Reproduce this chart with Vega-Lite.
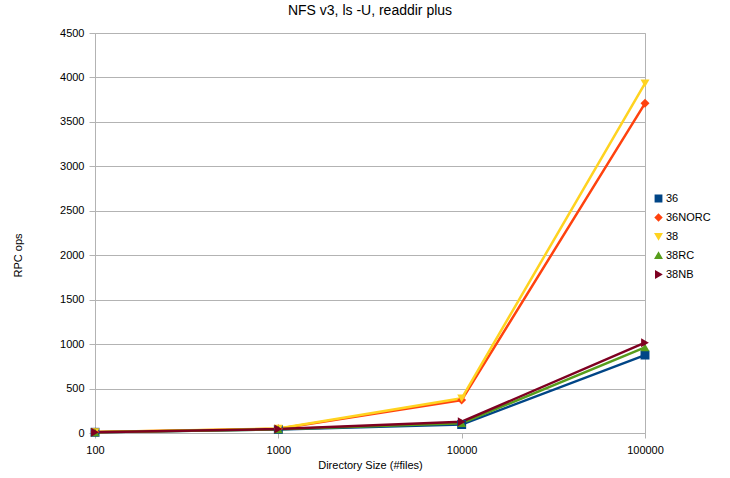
{
  "$schema": "https://vega.github.io/schema/vega-lite/v6.json",
  "width": 550,
  "height": 400,
  "autosize": {"type": "none"},
  "padding": {"left": 95, "top": 33, "right": 85, "bottom": 45},
  "background": "white",
  "title": {"text": "NFS v3, ls -U, readdir plus", "font": "Liberation Sans", "fontSize": 14, "fontWeight": "normal", "color": "#000000", "offset": 9, "anchor": "middle"},
  "config": {
    "view": {"stroke": "#b3b3b3", "strokeWidth": 1},
    "font": "Liberation Sans"
  },
  "data": {"values": [
    {"series": "36", "size": 100, "ops": 8},
    {"series": "36", "size": 1000, "ops": 40},
    {"series": "36", "size": 10000, "ops": 95},
    {"series": "36", "size": 100000, "ops": 877},
    {"series": "36NORC", "size": 100, "ops": 10},
    {"series": "36NORC", "size": 1000, "ops": 48},
    {"series": "36NORC", "size": 10000, "ops": 370},
    {"series": "36NORC", "size": 100000, "ops": 3709},
    {"series": "38", "size": 100, "ops": 10},
    {"series": "38", "size": 1000, "ops": 50},
    {"series": "38", "size": 10000, "ops": 390},
    {"series": "38", "size": 100000, "ops": 3934},
    {"series": "38RC", "size": 100, "ops": 8},
    {"series": "38RC", "size": 1000, "ops": 42},
    {"series": "38RC", "size": 10000, "ops": 110},
    {"series": "38RC", "size": 100000, "ops": 964},
    {"series": "38NB", "size": 100, "ops": 9},
    {"series": "38NB", "size": 1000, "ops": 44},
    {"series": "38NB", "size": 10000, "ops": 127},
    {"series": "38NB", "size": 100000, "ops": 1016}
  ]},
  "encoding": {
    "x": {
      "field": "size", "type": "quantitative",
      "scale": {"type": "log", "domain": [100, 100000], "nice": false},
      "axis": {
        "title": "Directory Size (#files)", "titleFont": "Liberation Sans", "titleFontSize": 11, "titleFontWeight": "normal", "titleColor": "#000000", "titlePadding": 4,
        "values": [100, 1000, 10000, 100000], "format": "d", "labelFlush": false,
        "labelFont": "Liberation Sans", "labelFontSize": 11, "labelColor": "#000000", "labelPadding": 6,
        "grid": false, "domain": false, "tickColor": "#b3b3b3", "tickSize": 5
      }
    },
    "y": {
      "field": "ops", "type": "quantitative",
      "scale": {"domain": [0, 4500], "nice": false},
      "axis": {
        "title": "RPC ops", "titleFont": "Liberation Sans", "titleFontSize": 11, "titleFontWeight": "normal", "titleColor": "#000000",
        "titleX": -77, "titleY": 222, "titleAngle": -90, "titleAlign": "center", "titleBaseline": "middle",
        "values": [0, 500, 1000, 1500, 2000, 2500, 3000, 3500, 4000, 4500], "format": "d", "labelFlush": false,
        "labelFont": "Liberation Sans", "labelFontSize": 11, "labelColor": "#000000", "labelPadding": 5,
        "grid": true, "gridColor": "#b3b3b3", "domain": false, "tickColor": "#b3b3b3", "tickSize": 6
      }
    },
    "color": {
      "field": "series", "type": "nominal",
      "scale": {"domain": ["36", "36NORC", "38", "38RC", "38NB"], "range": ["#004586", "#ff420e", "#ffd320", "#579d1c", "#7e0021"]},
      "legend": {
        "title": null, "orient": "none", "legendX": 558, "legendY": 160,
        "labelFont": "Liberation Sans", "labelFontSize": 11, "labelColor": "#000000",
        "symbolSize": 40, "rowPadding": 6, "labelOffset": 2
      }
    }
  },
  "layer": [
    {"mark": {"type": "line", "strokeWidth": 2.5}, "encoding": {"detail": {"field": "series"}}},
    {"mark": {"type": "point", "filled": true, "opacity": 1, "size": 80},
     "encoding": {
       "shape": {"field": "series", "type": "nominal",
         "scale": {"domain": ["36", "36NORC", "38", "38RC", "38NB"], "range": ["square", "diamond", "triangle-down", "triangle-up", "triangle-right"]},
         "legend": {"title": null, "orient": "none", "legendX": 558, "legendY": 160, "labelFont": "Liberation Sans", "labelFontSize": 11, "labelColor": "#000000", "symbolSize": 40, "rowPadding": 6, "labelOffset": 2}
       }
     }}
  ]
}
